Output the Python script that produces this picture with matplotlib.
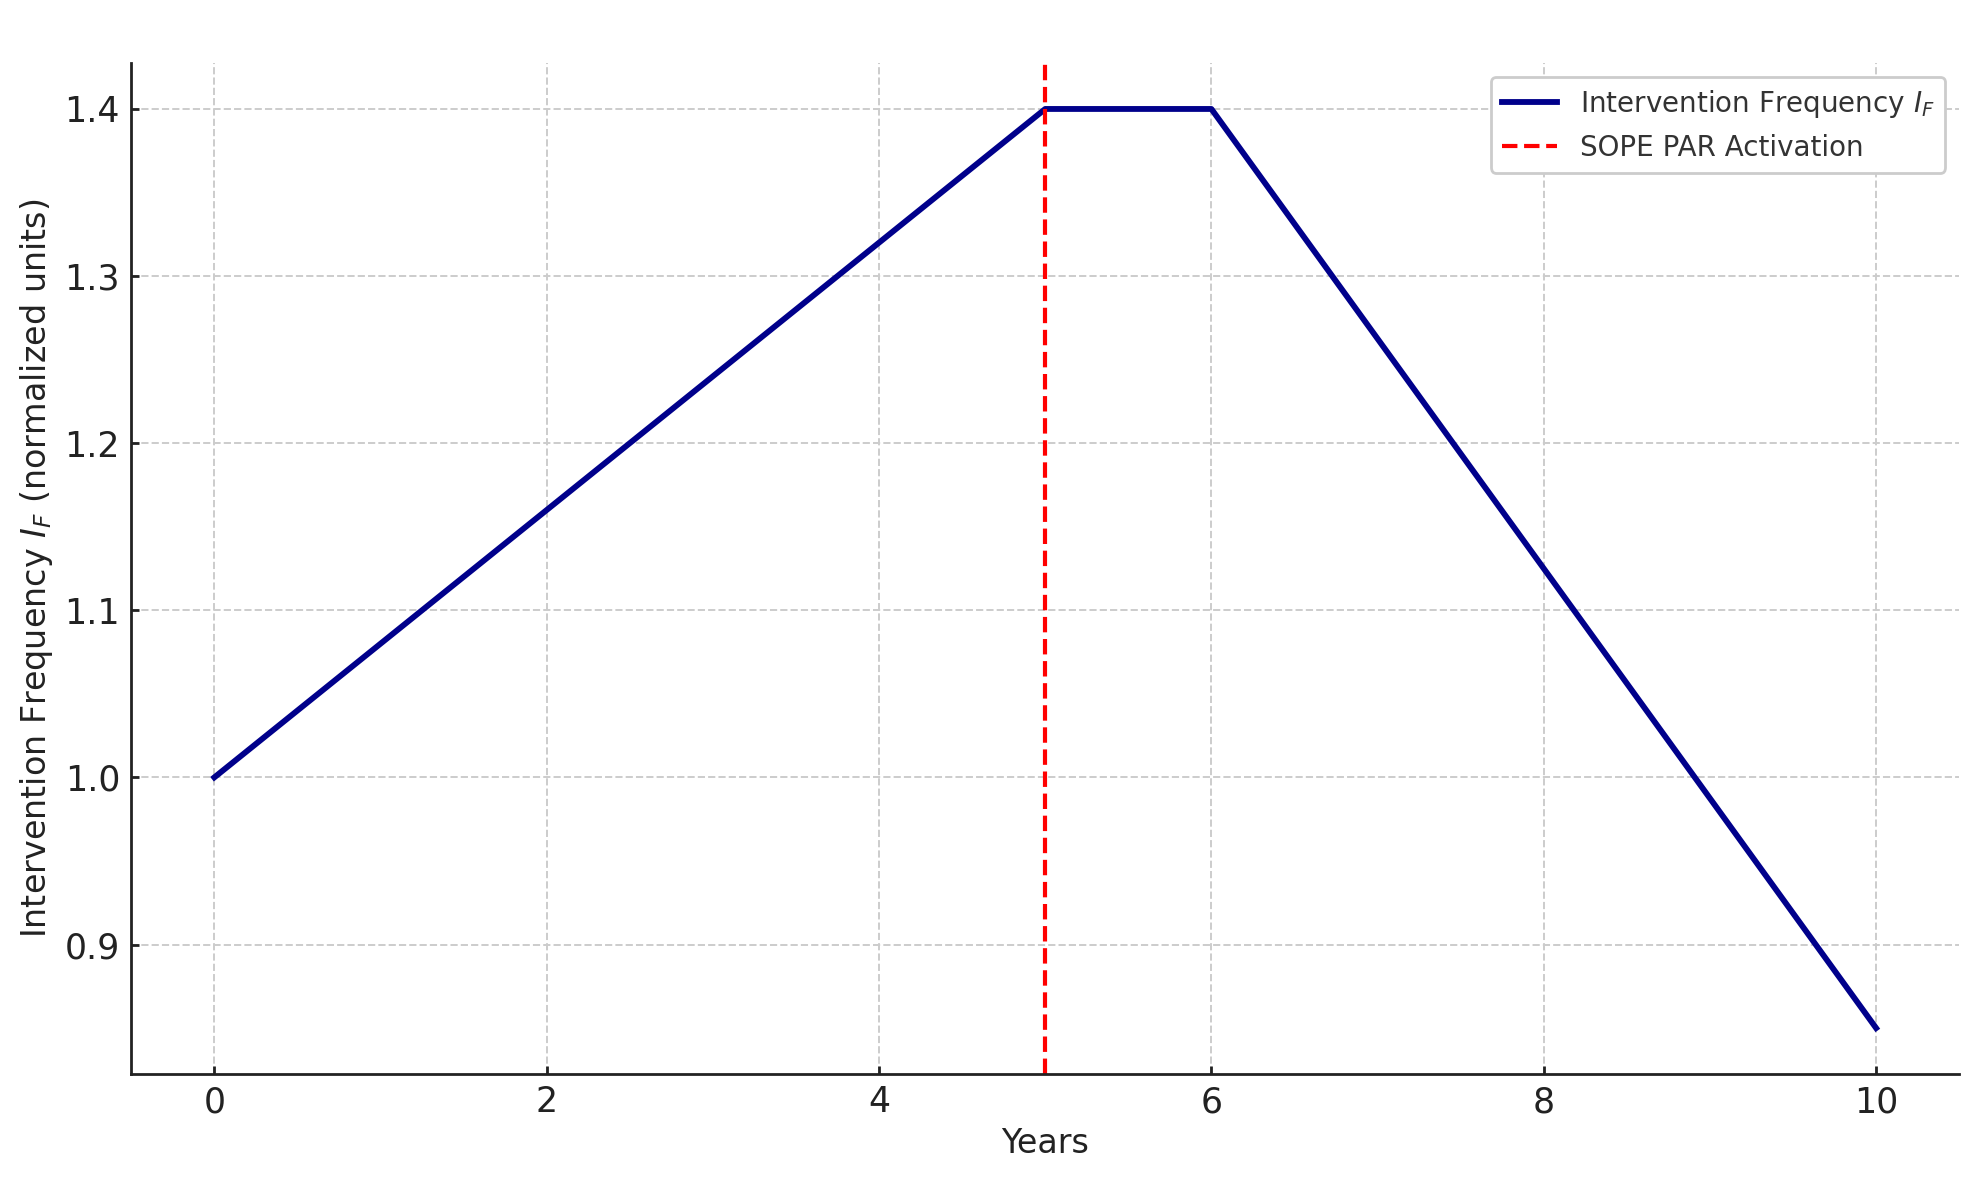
import matplotlib
matplotlib.use("Agg")
import matplotlib.pyplot as plt

# ----- DATA -----
years = [0, 5, 6, 10]
frequency = [1.0, 1.4, 1.4, 0.85]
activation_year = 5

plt.rcParams["font.family"] = ["DejaVu Sans"]
text_color = "#222222"

fig = plt.figure(figsize=(1979 / 200, 1180 / 200), dpi=200)
ax = fig.add_axes([0.0663, 0.0898, 0.9237, 0.8568])

ax.plot(years, frequency, color="darkblue", linewidth=2.1, label=r"Intervention Frequency $I_F$")
ax.axvline(activation_year, color="red", linestyle="--", linewidth=1.5, label="SOPE PAR Activation")

ax.set_xticks([0, 2, 4, 6, 8, 10])
ax.set_yticks([0.9, 1.0, 1.1, 1.2, 1.3, 1.4])
ax.set_xlabel("Years", fontsize=12, color=text_color, labelpad=3)
ax.set_ylabel(r"Intervention Frequency $I_F$ (normalized units)", fontsize=12, color=text_color, labelpad=3.5)
ax.tick_params(direction="in", length=3, width=1, labelsize=12.5, labelcolor=text_color, colors=text_color, pad=4)

ax.grid(True, linestyle="--", color="#cccccc", linewidth=0.7)
ax.spines["top"].set_visible(False)
ax.spines["right"].set_visible(False)
for s in ["left", "bottom"]:
    ax.spines[s].set_color(text_color)
    ax.spines[s].set_linewidth(1.0)

leg = ax.legend(loc="upper right", fontsize=10, framealpha=1, edgecolor="#cccccc", fancybox=True)
for t in leg.get_texts():
    t.set_color("#333333")

fig.savefig("out.png", dpi=200)
